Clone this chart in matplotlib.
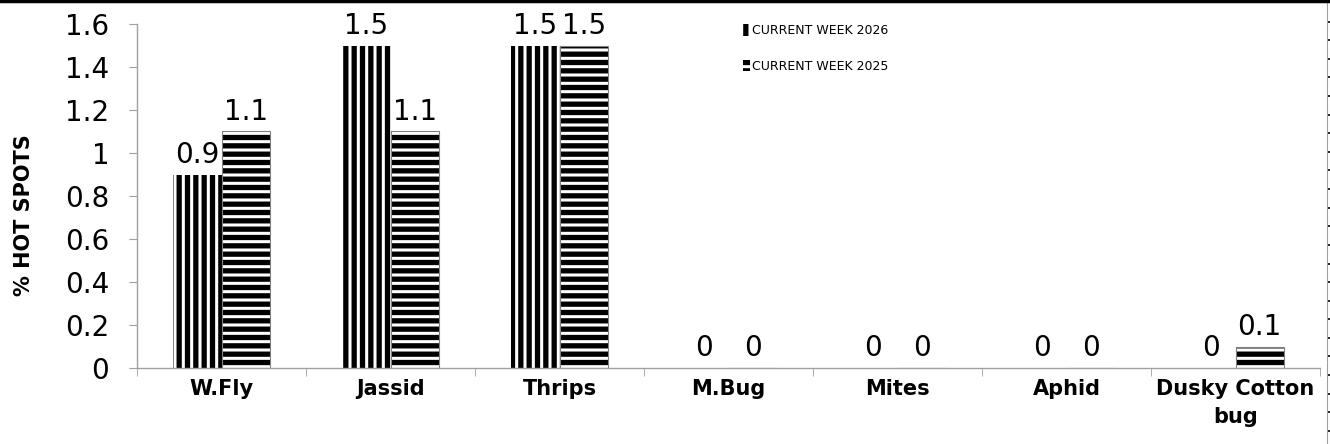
import matplotlib
matplotlib.use("Agg")
import matplotlib.pyplot as plt
import numpy as np
from matplotlib.lines import Line2D

plt.rcParams["font.family"] = ["DejaVu Sans"]
plt.rcParams["hatch.linewidth"] = 3.8

categories = ["W.Fly", "Jassid", "Thrips", "M.Bug", "Mites", "Aphid", "Dusky Cotton\nbug"]
week_2026 = [0.9, 1.5, 1.5, 0, 0, 0, 0]
week_2025 = [1.1, 1.1, 1.5, 0, 0, 0, 0.1]
series_names = ["CURRENT WEEK 2026", "CURRENT WEEK 2025"]

W, H = 1330, 444
fig = plt.figure(figsize=(W / 100, H / 100), dpi=100)
ax = fig.add_axes([137 / W, 1 - 368 / H, (1320 - 137) / W, (368 - 24) / H])

x = np.arange(len(categories))
bw = 0.285
b1 = ax.bar(x - bw / 2, week_2026, bw, color="white", edgecolor="black",
            hatch="||", linewidth=0, label=series_names[0])
b2 = ax.bar(x + bw / 2, week_2025, bw, color="white", edgecolor="black",
            hatch="--", linewidth=0, label=series_names[1])
# thin grey outline on the 2025 bars
ax.bar(x + bw / 2, week_2025, bw, fill=False, edgecolor="#808080", linewidth=0.8)

for bars in (b1, b2):
    ax.bar_label(bars, labels=[f"{v:g}" for v in bars.datavalues],
                 padding=4, fontsize=20, color="black")

ax.set_xlim(-0.5, len(categories) - 0.5)
ax.set_ylim(0, 1.6)
ax.set_yticks(np.arange(0, 1.61, 0.2))
ax.set_yticklabels(["0", "0.2", "0.4", "0.6", "0.8", "1", "1.2", "1.4", "1.6"])
ax.tick_params(axis="y", labelsize=20, length=6, color="#a0a0a0", pad=14)

ax.set_xticks(x)
ax.set_xticklabels(categories, fontsize=15, fontweight="bold", linespacing=1.5)
ax.tick_params(axis="x", length=0, pad=8)
ax.set_xticks(np.arange(-0.5, len(categories)), minor=True)
ax.tick_params(axis="x", which="minor", length=6, color="#a0a0a0")

ax.set_ylabel("% HOT SPOTS", fontsize=15, fontweight="bold")
ax.yaxis.set_label_coords(-0.087, 0.445)

for s in ("top", "right"):
    ax.spines[s].set_visible(False)
for s in ("left", "bottom"):
    ax.spines[s].set_color("#a0a0a0")
    ax.spines[s].set_linewidth(1)

leg = ax.legend(loc="upper left", bbox_to_anchor=(737 / W, 1 - 18 / H),
                bbox_transform=fig.transFigure, frameon=False, fontsize=9,
                handlelength=0.5, handleheight=1.0, handletextpad=0.2,
                labelspacing=1.8, borderpad=0)

# sheet border remnants
fig.add_artist(Line2D([0, 1], [1 - 1.5 / H, 1 - 1.5 / H], color="black", lw=2.5))
edge = fig.add_axes([1327 / W, 0, 0.0001, 1])
edge.set_facecolor("none")
for s in ("top", "bottom", "right"):
    edge.spines[s].set_visible(False)
edge.spines["left"].set_color("#a0a0a0")
edge.set_xticks([])
edge.set_ylim(H, 0)
edge.set_yticks(np.arange(21.7, H, 18.6))
edge.set_yticklabels([])
edge.tick_params(axis="y", direction="out", left=False, right=True, length=2.5,
                 width=1.2, color="black")

fig.savefig("out.png", dpi=100, facecolor="white")
